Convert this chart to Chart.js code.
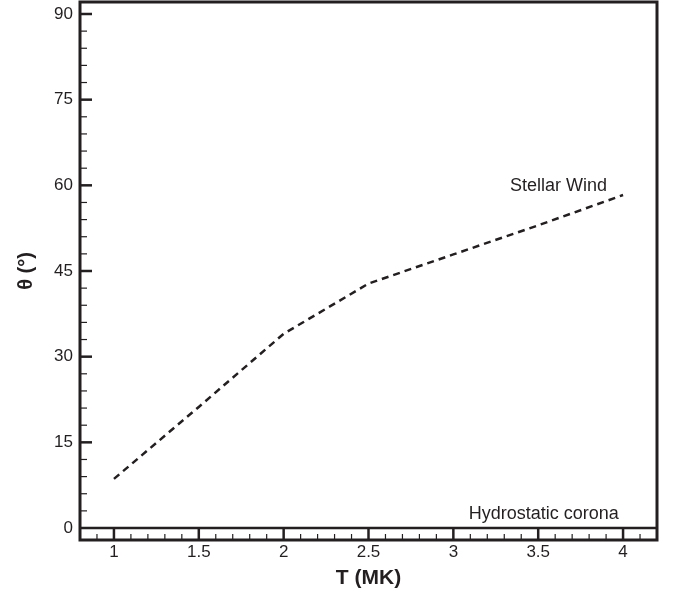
<!DOCTYPE html>
<html>
<head>
<meta charset="utf-8">
<script src="https://cdn.jsdelivr.net/npm/chart.js@4/dist/chart.umd.min.js"></script>
<style>
  html, body { margin: 0; padding: 0; background: #fff; }
  #wrap { width: 673px; height: 597px; }
</style>
</head>
<body>
<div id="wrap"><canvas id="thetaChart" width="673" height="597"></canvas></div>
<script>
// values
const temperatures = [1, 1.5, 2, 2.5, 3, 3.5, 4];
const angles = [8.6, 21.2, 34.0, 42.8, 47.9, 53.0, 58.3];
const xTickValues = [1, 1.5, 2, 2.5, 3, 3.5, 4];
const yTickValues = [0, 15, 30, 45, 60, 75, 90];

const ink = "#231f20";
const font = "'Liberation Sans', Arial, sans-serif";

// inside ticks, zero line, frame and the two region labels
const framePlugin = {
  id: "frame",
  afterDraw: (chart) => {
    const ctx = chart.ctx;
    const area = chart.chartArea;
    const xs = chart.scales.x;
    const ys = chart.scales.y;
    const zeroY = ys.getPixelForValue(0);
    ctx.save();
    ctx.strokeStyle = ink;

    // x ticks, going up from the bottom edge
    for (let i = 8; i <= 42; i++) {
      const v = i / 10;
      const px = xs.getPixelForValue(v);
      const major = i % 5 === 0;
      ctx.lineWidth = major ? 2.5 : 1.2;
      ctx.beginPath();
      ctx.moveTo(px, area.bottom);
      ctx.lineTo(px, major ? zeroY : area.bottom - 6);
      ctx.stroke();
    }

    // y ticks, going in from the left edge
    for (let v = 3; v <= 90; v += 3) {
      const py = ys.getPixelForValue(v);
      const major = v % 15 === 0;
      ctx.lineWidth = major ? 2.5 : 1.2;
      ctx.beginPath();
      ctx.moveTo(area.left, py);
      ctx.lineTo(area.left + (major ? 12 : 7), py);
      ctx.stroke();
    }

    // zero line
    ctx.lineWidth = 2.5;
    ctx.beginPath();
    ctx.moveTo(area.left, zeroY);
    ctx.lineTo(area.right, zeroY);
    ctx.stroke();

    // frame
    ctx.lineWidth = 3;
    ctx.strokeRect(area.left, area.top, area.right - area.left, area.bottom - area.top);

    ctx.fillStyle = ink;
    ctx.font = "18px " + font;
    ctx.textAlign = "center";
    ctx.textBaseline = "middle";
    ctx.fillText("Stellar Wind", xs.getPixelForValue(3.62), ys.getPixelForValue(59.9));
    ctx.fillText("Hydrostatic corona", xs.getPixelForValue(3.533), ys.getPixelForValue(2.5));
    ctx.restore();
  },
};

const ctx = document.getElementById("thetaChart").getContext("2d");
const thetaChart = new Chart(ctx, {
  type: "scatter",
  data: {
    datasets: [{
      data: temperatures.map((t, i) => ({ x: t, y: angles[i] })),
      showLine: true,
      borderColor: ink,
      borderWidth: 2.5,
      borderDash: [7, 5],
      pointRadius: 0,
      tension: 0,
    }],
  },
  options: {
    responsive: false,
    animation: false,
    layout: { padding: { top: 2, right: 16, left: 0, bottom: 0 } },
    plugins: {
      legend: { display: false },
      tooltip: { enabled: false },
    },
    scales: {
      x: {
        type: "linear",
        min: 0.8,
        max: 4.2,
        afterFit: (scale) => {
          scale.height = 57;
          scale.paddingLeft = 0;
          scale.paddingRight = 0;
        },
        afterBuildTicks: (scale) => { scale.ticks = xTickValues.map((v) => ({ value: v })); },
        grid: { display: false, drawTicks: false },
        border: { display: false },
        ticks: {
          color: ink,
          padding: 2,
          font: { family: font, size: 17 },
          callback: (v) => String(v),
        },
        title: {
          display: true,
          text: "T (MK)",
          color: ink,
          padding: { top: 0, bottom: 6 },
          font: { family: font, size: 21, weight: "bold" },
        },
      },
      y: {
        type: "linear",
        min: -2.1,
        max: 92.1,
        afterFit: (scale) => {
          scale.width = 80;
          scale.paddingTop = 0;
          scale.paddingBottom = 0;
        },
        afterBuildTicks: (scale) => { scale.ticks = yTickValues.map((v) => ({ value: v })); },
        grid: { display: false, drawTicks: false },
        border: { display: false },
        ticks: {
          color: ink,
          padding: 7,
          font: { family: font, size: 17 },
        },
        title: {
          display: true,
          text: "θ (°)",
          color: ink,
          padding: { top: 14, bottom: 0 },
          font: { family: font, size: 20, weight: "bold" },
        },
      },
    },
  },
  plugins: [framePlugin],
});
</script>
</body>
</html>
